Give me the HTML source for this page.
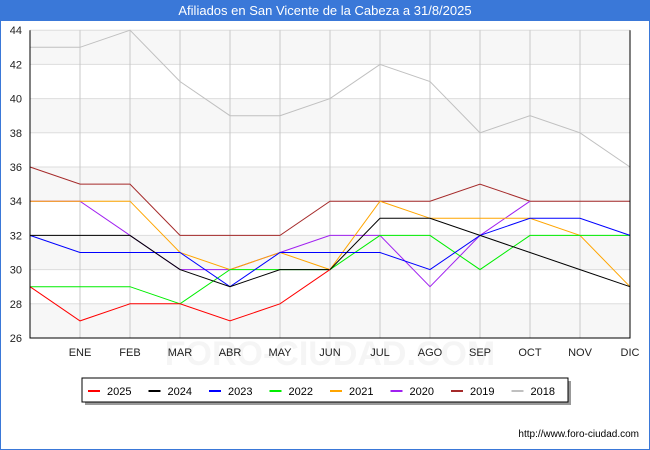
<!DOCTYPE html>
<html><head><meta charset="utf-8"><style>
body{margin:0;width:650px;height:450px;overflow:hidden;background:#fff;font-family:"Liberation Sans",sans-serif}
#wrap{position:absolute;left:0;top:0;width:648px;height:448px;border:1px solid #3a78d8}
#title{position:absolute;left:0;top:0;width:650px;height:21px;background:#3a78d8;color:#fff;font-size:13px;text-align:center;line-height:21px}
</style></head><body>
<div id="wrap"></div>
<div id="title">Afiliados en San Vicente de la Cabeza a 31/8/2025</div>
<svg id="chart" width="650" height="450" style="position:absolute;left:0;top:0"></svg>
<script>
const months=["","ENE","FEB","MAR","ABR","MAY","JUN","JUL","AGO","SEP","OCT","NOV","DIC"];
const yTicks=[26,28,30,32,34,36,38,40,42,44];
const seriesNames=["2025","2024","2023","2022","2021","2020","2019","2018"];
const seriesColors=["#ff0000","#000000","#0000ff","#00ee00","#ffa500","#a020f0","#a52a2a","#c0c0c0"];
const s2025=[29,27,28,28,27,28,30];
const s2024=[32,32,32,30,29,30,30,33,33,32,31,30,29];
const s2023=[32,31,31,31,29,31,31,31,30,32,33,33,32];
const s2022=[29,29,29,28,30,30,30,32,32,30,32,32,32];
const s2021=[34,34,34,31,30,31,30,34,33,33,33,32,29];
const s2020=[34,34,32,30,30,31,32,32,29,32,34];
const s2019=[36,35,35,32,32,32,34,34,34,35,34,34,34];
const s2018=[43,43,44,41,39,39,40,42,41,38,39,38,36];
const allSeries=[s2025,s2024,s2023,s2022,s2021,s2020,s2019,s2018];
const NS="http://www.w3.org/2000/svg";
const svg=document.getElementById('chart');
const L=30,R=630,T=30.2,B=338,ymin=26,ymax=44;
const xs=i=>L+i*(R-L)/12;
const ys=v=>B-(v-ymin)*(B-T)/(ymax-ymin);
function mk(t,a,p){const e=document.createElementNS(NS,t);for(const k in a)e.setAttribute(k,a[k]);(p||svg).appendChild(e);return e;}
const wm=mk('text',{x:330,y:365,'text-anchor':'middle','font-size':34,fill:'#f5f5f5','font-weight':'bold'});wm.textContent='FORO-CIUDAD.COM';


for(let i=0;i<yTicks.length-1;i++){if(i%2==0){const r=mk('rect',{x:L,y:ys(yTicks[i+1]),width:R-L,height:ys(yTicks[i])-ys(yTicks[i+1]),fill:'#f7f7f7'});

}}
yTicks.forEach(v=>{const l=mk('line',{x1:L,x2:R,y1:ys(v),y2:ys(v),stroke:'#dddddd'});


const t=mk('text',{x:L-8,y:ys(v)+4,'text-anchor':'end','font-size':11,fill:'#222'});t.textContent=v;

});
months.forEach((m,i)=>{if(i>0){const l=mk('line',{x1:xs(i),x2:xs(i),y1:T,y2:B,stroke:'#c8c8c8'});


const t=mk('text',{x:xs(i),y:356,'text-anchor':'middle','font-size':11,fill:'#222'});t.textContent=m;

}});
for(let k=allSeries.length-1;k>=0;k--){const d=allSeries[k];
const pl=mk('polyline',{points:d.map((v,i)=>xs(i)+','+ys(v)).join(' '),fill:'none',stroke:seriesColors[k],'stroke-width':1});

}
const ax=mk('path',{d:`M${L},${T}V${B}H${R}V${T}`,fill:'none',stroke:'#000','stroke-width':1});


mk('rect',{x:85,y:381,width:486,height:24,fill:'#999'});
const lg=mk('rect',{x:82,y:378,width:486,height:24,fill:'#fff',stroke:'#000'});


seriesNames.forEach((n,k)=>{const x0=88+k*60.5;
const l=mk('line',{x1:x0,x2:x0+12,y1:391,y2:391,stroke:seriesColors[k],'stroke-width':2});


const t=mk('text',{x:x0+19,y:395,'font-size':11,fill:'#000'});t.textContent=n;

});
const u=mk('text',{x:639,y:437,'text-anchor':'end','font-size':10,fill:'#000'});u.textContent='http://www.foro-ciudad.com';


</script>
</body></html>
